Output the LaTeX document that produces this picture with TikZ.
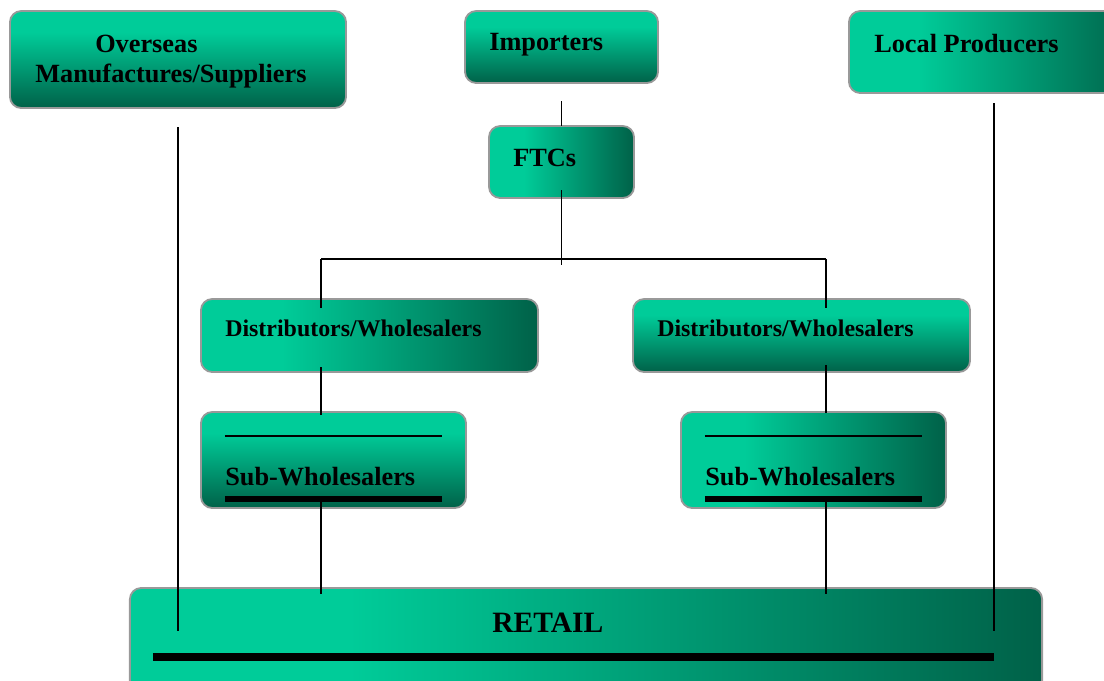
\documentclass[tikz,border=0pt]{standalone}
\usepackage{fontspec}
\setmainfont{Liberation Serif}
\usetikzlibrary{calc,positioning}
\definecolor{gl}{RGB}{0,204,153}
\definecolor{gd}{RGB}{0,97,72}
\pgfdeclarehorizontalshading{hgrad}{100bp}{color(0bp)=(gl); color(37bp)=(gl); color(75bp)=(gd); color(100bp)=(gd)}
\pgfdeclareverticalshading{vgrad}{100bp}{color(0bp)=(gd); color(25bp)=(gd); color(64bp)=(gl); color(100bp)=(gl)}

\begin{document}
\begin{tikzpicture}[x=0.025cm,y=-0.025cm,
  box/.style={draw=black!40,line width=1.3pt,rounded corners=8pt,inner sep=0pt,outer sep=0pt},
  hbox/.style={box,shading=hgrad},
  vbox/.style={box,shading=vgrad},
  lbl/.style={anchor=base west,inner sep=0pt,font=\bfseries\fontsize{18.7}{22}\selectfont},
  conn/.style={line width=1.2pt},
  bar/.style={line width=4.3pt}]
\useasboundingbox (0,0) rectangle (1104,680);
% boxes
\node[vbox,minimum width=8.4cm,minimum height=2.425cm] (ov) at (178,59.5) {};
\node[vbox,minimum width=4.825cm,minimum height=1.8cm] (imp) at (561.5,47) {};
\node[hbox,minimum width=7.25cm,minimum height=2.05cm] (loc) at (994,52) {};
\node[hbox,minimum width=3.625cm,minimum height=1.8cm] (ftc) at (561.5,162) {};
\node[hbox,minimum width=8.425cm,minimum height=1.825cm] (dl) at (369.5,335.5) {};
\node[vbox,minimum width=8.425cm,minimum height=1.825cm] (dr) at (801.5,335.5) {};
\node[vbox,minimum width=6.625cm,minimum height=2.4cm] (sl) at (333.5,460) {};
\node[hbox,minimum width=6.625cm,minimum height=2.4cm] (sr) at (813.5,460) {};
\node[hbox,minimum width=22.8cm,minimum height=2.8cm] (rt) at (586,644) {};
% labels
\node[lbl] (ovT1) at (95,52) {Overseas};
\node[lbl] (ovT2) at (35,82) {Manufactures/Suppliers};
\node[lbl] (impT) at (489,50) {Importers};
\node[lbl] (locT) at (874,52) {Local Producers};
\node[lbl] (ftcT) at (513,166) {FTCs};
\node[lbl,font=\bfseries\fontsize{17}{20}\selectfont] (dlT) at (225,336) {Distributors/Wholesalers};
\node[lbl,font=\bfseries\fontsize{17}{20}\selectfont] (drT) at (657,336) {Distributors/Wholesalers};
\node[lbl] (slT) at (225,485) {Sub-Wholesalers};
\node[lbl] (srT) at (705,485) {Sub-Wholesalers};
\node[lbl,font=\bfseries\fontsize{21}{24}\selectfont] (rtT) at (492,632) {RETAIL};
% rules inside boxes
\draw[conn] ($(sl.north west)+(24,24)$) -- ($(sl.north west)+(241,24)$);
\draw[bar] ($(sl.north west)+(24,87)$) -- ($(sl.north west)+(241,87)$);
\draw[conn] ($(sr.north west)+(24,24)$) -- ($(sr.north west)+(241,24)$);
\draw[bar] ($(sr.north west)+(24,87)$) -- ($(sr.north west)+(241,87)$);
\draw[line width=5.7pt] ($(rt.north west)+(23,69)$) -- ($(rt.north west)+(864,69)$);
% connectors
\coordinate (jl) at (321,259);
\coordinate (jr) at (826,259);
\draw[conn] ($(ov.south)+(0,19)$) -- ($(ov.south |- rt.north)+(0,43)$);
\draw[conn] ($(loc.south)+(0,10)$) -- ($(loc.south |- rt.north)+(0,43)$);
\draw[conn] ($(imp.south)+(0,18)$) -- (ftc.north);
\draw[conn] ($(ftc.south)+(0,-8)$) -- ($(ftc.south)+(0,67)$);
\draw[conn] (jl) -- (jr);
\draw[conn] (jl) -- ($(jl |- dl.north)+(0,9)$);
\draw[conn] (jr) -- ($(jr |- dr.north)+(0,9)$);
\draw[conn] ($(jl |- dl.south)+(0,-5)$) -- ($(jl |- sl.north)+(0,3)$);
\draw[conn] ($(jr |- dr.south)+(0,-7)$) -- ($(jr |- sr.north)+(0,1)$);
\draw[conn] ($(jl |- sl.south)+(0,-6)$) -- ($(jl |- rt.north)+(0,6)$);
\draw[conn] ($(jr |- sr.south)+(0,-6)$) -- ($(jr |- rt.north)+(0,6)$);
\end{tikzpicture}
\end{document}
